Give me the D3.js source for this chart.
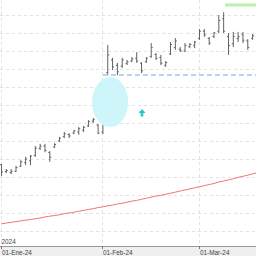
<!DOCTYPE html>
<html>
<head>
<meta charset="utf-8">
<script src="https://cdn.jsdelivr.net/npm/d3@7"></script>
<style>
  html, body { margin: 0; padding: 0; background: #fff; }
  svg { display: block; }
  text { font-family: "Liberation Sans", Arial, sans-serif; }
</style>
</head>
<body>
<svg id="chart"></svg>
<script>
// month tick labels and the bar index where each month starts
const monthLabels = ["01-Ene-24", "01-Feb-24", "01-Mar-24"];
const monthStart = [0, 21, 41];
const yearLabel = "2024";

// daily OHLC bars
const opens  = [21.84,21.65,21.62,21.66,21.80,21.90,21.95,22.10,22.30,22.36,22.18,22.33,22.50,22.62,22.68,22.72,22.75,22.80,22.92,23.05,22.94,22.75,
                24.40,24.75,24.60,24.58,24.65,24.72,24.80,24.66,24.70,24.85,24.90,24.82,24.60,24.92,25.10,25.05,25.00,25.12,25.15,
                25.35,25.55,25.35,25.40,25.55,25.90,25.40,25.20,25.35,25.45,25.28,25.35];
const highs  = [21.86,21.72,21.72,21.81,21.97,22.06,22.11,22.36,22.42,22.42,22.22,22.44,22.61,22.75,22.72,22.81,22.89,22.92,23.08,23.14,22.97,23.03,
                25.17,24.81,24.67,24.81,24.75,24.83,24.97,24.69,24.83,25.22,24.94,24.89,24.72,25.25,25.36,25.11,25.22,25.22,25.28,
                25.61,25.61,25.39,25.53,26.00,26.08,25.50,25.53,25.53,25.53,25.33,25.47];
const lows   = [21.53,21.61,21.58,21.64,21.78,21.83,21.83,22.06,22.25,22.19,21.92,22.31,22.47,22.58,22.58,22.69,22.67,22.75,22.89,23.00,22.69,22.69,
                24.33,24.47,24.33,24.53,24.61,24.69,24.67,24.39,24.67,24.81,24.75,24.61,24.56,24.89,25.03,24.97,24.97,25.08,25.08,
                25.31,25.39,25.17,25.36,25.50,25.50,24.89,25.11,25.25,25.22,25.03,25.31];
const closes = [21.64,21.68,21.66,21.76,21.92,22.00,22.08,22.30,22.36,22.24,22.05,22.40,22.58,22.70,22.64,22.78,22.84,22.88,23.04,23.10,22.72,22.98,
                24.89,24.56,24.42,24.75,24.70,24.78,24.72,24.45,24.80,25.10,24.80,24.66,24.68,25.18,25.28,25.02,25.15,25.18,25.25,
                25.55,25.45,25.22,25.50,25.85,25.55,25.15,25.40,25.40,25.30,25.10,25.42];

// long moving average (red line)
const movingAvg = [20.20,20.22,20.24,20.26,20.28,20.30,20.32,20.34,20.36,20.39,20.41,20.43,20.45,20.48,20.50,20.52,20.55,20.57,20.60,20.62,20.65,20.67,
                   20.70,20.72,20.75,20.77,20.80,20.83,20.85,20.88,20.91,20.94,20.97,20.99,21.02,21.05,21.08,21.11,21.14,21.17,21.20,
                   21.23,21.26,21.29,21.32,21.36,21.39,21.42,21.45,21.49,21.52,21.55,21.59,21.62];

// annotations
const gapLevel = 24.33, gapStart = 21;       // blue dashed line
const targetLevel = 26.28, targetStart = 46.3; // green bar
const ellipseAt = [22.5, 23.58];
const arrowAt = [29.1, 23.28];

const W = 256, H = 256, axisY = 246;

const svg = d3.select("#chart").attr("width", W).attr("height", H);

const x = d3.scaleLinear().domain([0, 41]).range([1.5, 199.5]);
const y = d3.scaleLinear().domain([19.583, 26.417]).range([axisY, 0]);

const bars = d3.range(opens.length).map(i => ({
  i: i, o: opens[i], h: highs[i], l: lows[i], c: closes[i]
}));

// axis band
svg.append("rect").attr("x", 0).attr("y", axisY).attr("width", W).attr("height", H - axisY)
  .attr("fill", "#efefef");

// grid
svg.append("g").selectAll("line").data(y.ticks(14)).enter().append("line")
  .attr("x1", 0).attr("x2", W)
  .attr("y1", d => Math.round(y(d)) + 0.5).attr("y2", d => Math.round(y(d)) + 0.5)
  .attr("stroke", "#e2e2e2").attr("stroke-dasharray", "3,3");

svg.append("g").selectAll("line").data(monthStart).enter().append("line")
  .attr("x1", d => Math.round(x(d)) - 0.5).attr("x2", d => Math.round(x(d)) - 0.5)
  .attr("y1", 0).attr("y2", axisY)
  .attr("stroke", "#e2e2e2").attr("stroke-dasharray", "3,3");

// moving average
svg.append("path")
  .datum(movingAvg)
  .attr("fill", "none")
  .attr("stroke", "#f27474")
  .attr("stroke-width", 1)
  .attr("d", d3.line().x((d, i) => x(i)).y(d => y(d)));

// ohlc bars
let bar = svg.append("g").selectAll("g").data(bars).enter().append("g")
  .attr("stroke", "#626262").attr("stroke-width", 1);

bar.append("line")
  .attr("x1", d => x(d.i)).attr("x2", d => x(d.i))
  .attr("y1", d => y(d.h)).attr("y2", d => y(d.l));
bar.append("line")
  .attr("x1", d => x(d.i) - 1.5).attr("x2", d => x(d.i))
  .attr("y1", d => y(d.o)).attr("y2", d => y(d.o));
bar.append("line")
  .attr("x1", d => x(d.i)).attr("x2", d => x(d.i) + 1.5)
  .attr("y1", d => y(d.c)).attr("y2", d => y(d.c));

// gap highlight
svg.append("ellipse")
  .attr("cx", x(ellipseAt[0])).attr("cy", y(ellipseAt[1]))
  .attr("rx", 18).attr("ry", 25)
  .attr("fill", "#cdf5fa");

svg.append("line")
  .attr("x1", x(gapStart)).attr("x2", W)
  .attr("y1", y(gapLevel)).attr("y2", y(gapLevel))
  .attr("stroke", "#a3c6ef").attr("stroke-width", 1.5)
  .attr("stroke-dasharray", "5,3");

svg.append("line")
  .attr("x1", x(targetStart)).attr("x2", W)
  .attr("y1", y(targetLevel)).attr("y2", y(targetLevel))
  .attr("stroke", "#b6f2aa").attr("stroke-width", 3);

// up arrow
let ax = x(arrowAt[0]), ay = y(arrowAt[1]);
svg.append("path")
  .attr("d", `M${ax},${ay - 4} L${ax + 3.5},${ay} L${ax + 1.3},${ay} L${ax + 1.3},${ay + 3.5} L${ax - 1.3},${ay + 3.5} L${ax - 1.3},${ay} L${ax - 3.5},${ay} Z`)
  .attr("fill", "#2cc6c8");

// x axis
svg.append("line").attr("x1", 0).attr("x2", W).attr("y1", axisY + 0.5).attr("y2", axisY + 0.5)
  .attr("stroke", "#9a9a9a");

let ticks = svg.append("g").selectAll("g").data(monthStart).enter().append("g")
  .attr("transform", d => `translate(${Math.round(x(d)) - 0.5},${axisY})`);
ticks.append("line").attr("y1", 0).attr("y2", 3).attr("stroke", "#777");
ticks.append("text")
  .attr("x", 0.5).attr("y", 8.6)
  .attr("font-size", 6.4).attr("fill", "#444")
  .text((d, i) => monthLabels[i]);

svg.append("text")
  .attr("x", 1.5).attr("y", 243.5)
  .attr("font-size", 6.4).attr("fill", "#444")
  .text(yearLabel);
</script>
</body>
</html>
